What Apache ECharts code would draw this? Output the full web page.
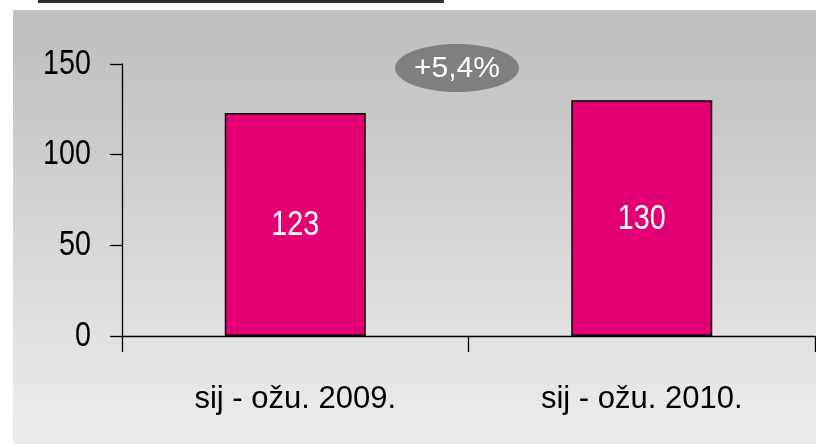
<!DOCTYPE html>
<html>
<head>
<meta charset="utf-8">
<script src="https://cdn.jsdelivr.net/npm/echarts@6/dist/echarts.min.js"></script>
<style>
  html, body { margin: 0; padding: 0; background: #fff; }
  #chart { width: 816px; height: 444px; }
</style>
</head>
<body>
<div id="chart"></div>
<script>
const categories = ['sij - ožu. 2009.', 'sij - ožu. 2010.']
const values = [123, 130]
const yTicks = [0, 50, 100, 150]
const changeLabel = '+5,4%'

const font = '"Liberation Sans", Arial, sans-serif'
// no narrow face installed, so the condensed numbers are squeezed by hand
const squeeze = 0.82

const chart = echarts.init(document.getElementById('chart'))

const decorations = [
  // grey panel behind the plot
  {
    type: 'rect',
    z: -10,
    shape: { x: 13, y: 10, width: 803, height: 434 },
    style: {
      fill: new echarts.graphic.LinearGradient(0, 0, 0, 1, [
        { offset: 0, color: '#c0c0c0' },
        { offset: 0.08, color: '#c1c1c1' },
        { offset: 1, color: '#ededed' },
      ]),
    },
  },
  // cut-off header strip
  {
    type: 'rect',
    z: -10,
    shape: { x: 38, y: 0, width: 406, height: 3 },
    style: { fill: '#333333' },
  },
  // change badge
  {
    type: 'group',
    z: 10,
    children: [
      {
        type: 'ellipse',
        shape: { cx: 457, cy: 68, rx: 62, ry: 24 },
        style: { fill: '#7f7f7f' },
      },
      {
        type: 'text',
        x: 457,
        y: 69,
        style: {
          text: changeLabel,
          fill: '#ffffff',
          font: '30px ' + font,
          align: 'center',
          verticalAlign: 'middle',
        },
      },
    ],
  },
]

chart.setOption({
  animation: false,
  graphic: decorations,
  grid: {
    left: 122,
    right: 1,
    top: 64,
    bottom: 108,
  },
  xAxis: {
    type: 'category',
    data: categories,
    axisLine: { lineStyle: { color: '#000', width: 1.3 } },
    axisTick: { show: true, alignWithLabel: false, interval: 0, length: 16, lineStyle: { color: '#000', width: 1.3 } },
    axisLabel: {
      margin: 48,
      color: '#000',
      fontFamily: font,
      fontSize: 31,
    },
  },
  yAxis: {
    type: 'value',
    min: yTicks[0],
    max: yTicks[yTicks.length - 1],
    interval: yTicks[1] - yTicks[0],
    splitLine: { show: false },
    axisLine: { show: true, lineStyle: { color: '#000', width: 1.3 } },
    axisTick: { show: true, length: 12, lineStyle: { color: '#000', width: 1.3 } },
    axisLabel: { show: false },
  },
  series: [
    {
      type: 'bar',
      data: values,
      barWidth: 141,
      itemStyle: {
        color: '#e20074',
        borderColor: '#000',
        borderWidth: 1.5,
      },
    },
  ],
})

// y tick labels and bar values, placed through the chart's own scales
const yPix = (v) => chart.convertToPixel({ yAxisIndex: 0 }, v)
const xPix = (i) => chart.convertToPixel({ xAxisIndex: 0 }, i)
const band = xPix(1) - xPix(0)
const axisX = xPix(0) - band / 2

const tickLabels = yTicks.map((v) => ({
  type: 'text',
  x: axisX - 31,
  y: yPix(v),
  scaleX: squeeze,
  style: {
    text: String(v),
    fill: '#000',
    font: '35px ' + font,
    align: 'right',
    verticalAlign: 'middle',
  },
}))

const valueLabels = values.map((v, i) => ({
  type: 'text',
  z: 10,
  x: xPix(i),
  y: (yPix(v) + yPix(0)) / 2 + 1,
  scaleX: squeeze,
  style: {
    text: String(v),
    fill: '#fff',
    font: '35px ' + font,
    align: 'center',
    verticalAlign: 'middle',
  },
}))

chart.setOption({ graphic: decorations.concat(tickLabels, valueLabels) })
</script>
</body>
</html>
